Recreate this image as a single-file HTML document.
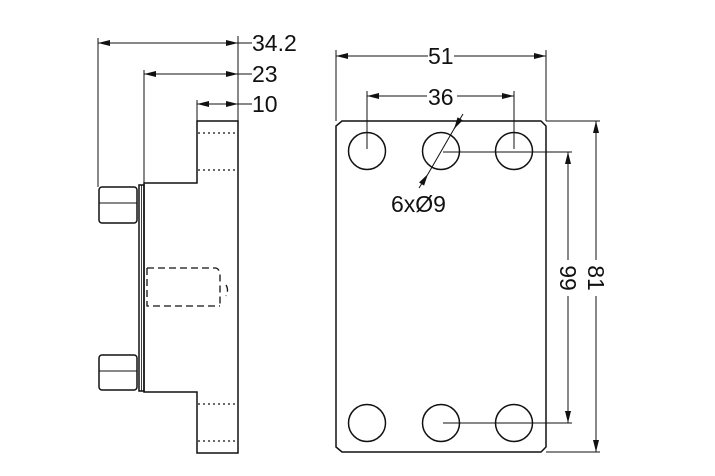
<!DOCTYPE html>
<html><head><meta charset="utf-8"><style>html,body{margin:0;padding:0;background:#fff}svg{display:block}text{font-family:"Liberation Sans",sans-serif;font-size:23px;fill:#111}</style></head><body>
<svg width="715" height="476" viewBox="0 0 715 476" xmlns="http://www.w3.org/2000/svg">
<defs><marker id="a" viewBox="0 0 12 6" refX="12" refY="3" markerWidth="12" markerHeight="6" orient="auto-start-reverse" markerUnits="userSpaceOnUse"><path d="M0,0L12,3L0,6z" fill="#111"/></marker></defs>
<g fill="none" stroke="#111" stroke-width="1.5">
<path d="M197,121H238V453H197V392H144V183H197Z"/>
<rect x="139" y="185" width="5" height="206"/>
<line x1="141.5" y1="185" x2="141.5" y2="391" stroke-width="0.8"/>
<rect x="99" y="187" width="38" height="36" rx="3"/>
<line x1="99" y1="203" x2="137" y2="203" stroke-width="1"/>
<rect x="99" y="355" width="38" height="35" rx="3"/>
<line x1="99" y1="371" x2="137" y2="371" stroke-width="1"/>
<g stroke-dasharray="2,3" stroke-width="1.2"><line x1="198" y1="133" x2="238" y2="133"/><line x1="198" y1="170" x2="238" y2="170"/><line x1="198" y1="404" x2="238" y2="404"/><line x1="198" y1="441" x2="238" y2="441"/></g>
<path d="M147,268H215Q219,268 220,274V306M147,268V306H220M226,285Q229,290 226,296" stroke-dasharray="7,4" stroke-width="1.3"/>
<line x1="98" y1="38" x2="98" y2="187" stroke-width="1"/>
<line x1="144" y1="70" x2="144" y2="183" stroke-width="1"/>
<line x1="197" y1="100" x2="197" y2="121" stroke-width="1"/>
<line x1="238" y1="36" x2="238" y2="121" stroke-width="1"/>
<line x1="98" y1="43" x2="238" y2="43" marker-start="url(#a)" marker-end="url(#a)" stroke-width="1"/>
<line x1="144" y1="74" x2="238" y2="74" marker-start="url(#a)" marker-end="url(#a)" stroke-width="1"/>
<line x1="197" y1="104" x2="238" y2="104" marker-start="url(#a)" marker-end="url(#a)" stroke-width="1"/>
<line x1="238" y1="43" x2="252" y2="43" stroke-width="1"/><line x1="238" y1="74" x2="252" y2="74" stroke-width="1"/><line x1="238" y1="104" x2="252" y2="104" stroke-width="1"/>
<path d="M342,121H541L546,126V447L541,452H342L336,447V126Z"/>
<circle cx="367" cy="151" r="18.5"/><circle cx="441" cy="151" r="18.5"/><circle cx="514" cy="151" r="18.5"/>
<circle cx="367" cy="423" r="18.5"/><circle cx="441" cy="423" r="18.5"/><circle cx="514" cy="423" r="18.5"/>
<g stroke-width="1">
<line x1="336" y1="50" x2="336" y2="121"/><line x1="546" y1="50" x2="546" y2="121"/>
<line x1="336" y1="56" x2="428" y2="56" marker-start="url(#a)"/><line x1="454" y1="56" x2="546" y2="56" marker-end="url(#a)"/>
<line x1="367" y1="91" x2="367" y2="149"/><line x1="514" y1="91" x2="514" y2="149"/>
<line x1="367" y1="96" x2="427" y2="96" marker-start="url(#a)"/><line x1="457" y1="96" x2="514" y2="96" marker-end="url(#a)"/>
<line x1="546" y1="121" x2="600" y2="121"/><line x1="546" y1="452" x2="600" y2="452"/>
<line x1="443" y1="152" x2="572" y2="152"/><line x1="443" y1="423" x2="572" y2="423"/>
<line x1="568" y1="152" x2="568" y2="260" marker-start="url(#a)"/><line x1="568" y1="296" x2="568" y2="423" marker-end="url(#a)"/>
<line x1="596" y1="121" x2="596" y2="260" marker-start="url(#a)"/><line x1="596" y1="296" x2="596" y2="452" marker-end="url(#a)"/>
<line x1="463" y1="114" x2="454" y2="129" /><line x1="454" y1="129" x2="428" y2="174"/>
<line x1="457" y1="124" x2="454" y2="129" marker-end="url(#a)"/>
<line x1="419" y1="188" x2="428" y2="174" marker-end="url(#a)"/>
</g>
</g>
<text x="252" y="51">34.2</text><text x="252" y="82">23</text><text x="252" y="112">10</text>
<text x="428" y="64">51</text><text x="428" y="105">36</text>
<text x="391" y="212">6xØ9</text>
<text transform="translate(560,278) rotate(90)" text-anchor="middle">99</text>
<text transform="translate(588,278) rotate(90)" text-anchor="middle">81</text>
</svg>
</body></html>
